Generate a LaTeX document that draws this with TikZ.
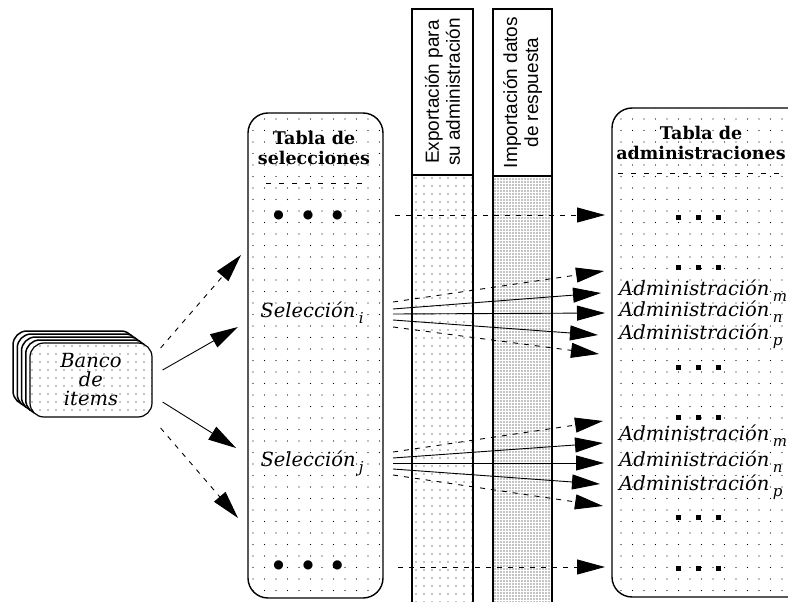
\documentclass[tikz,border=0pt]{standalone}
\usepackage{fontspec}
\newfontfamily\hdrfont{Liberation Sans}
\newfontfamily\labfont{DejaVu Serif}
\newfontfamily\symfont{DejaVu Sans}
\newcommand{\subl}[1]{\raisebox{-6pt}{\fontsize{15}{15}\selectfont #1}}
\usetikzlibrary{arrows.meta,patterns.meta,calc}
\begin{document}
\begin{tikzpicture}[x=1pt,y=-1pt,
  tabbox/.style={draw, line width=1.4pt, rounded corners=20, preaction={fill=white}, pattern={Dots[distance=11.5pt,radius=0.6pt]}, inner sep=0pt},
  colhead/.style={draw, line width=1.4pt, fill=white, rotate=90, inner sep=0pt, align=center, font=\hdrfont\fontsize{19}{21}\selectfont},
  colbodyA/.style={draw, line width=1.4pt, preaction={fill=white}, pattern={Dots[distance=8pt,radius=0.6pt]}, inner sep=0pt},
  colbodyB/.style={draw, line width=1.4pt, preaction={fill=white}, pattern={Dots[distance=3pt,radius=0.65pt]}, inner sep=0pt},
  tabtitle/.style={font=\labfont\fontsize{17.5}{20}\selectfont\bfseries, align=center, inner sep=0pt},
  itl/.style={font=\labfont\fontsize{19.5}{19}\selectfont\itshape, inner sep=0pt},
  admrow/.style={itl, anchor=west},
  bulletrow/.style={font=\symfont\fontsize{12}{12}\selectfont, inner sep=0pt},
  squarerow/.style={inner sep=0pt},
  stacklayer/.style={draw, line width=1.5pt, rounded corners=14, fill=white},
  bancobox/.style={draw, line width=1.2pt, rounded corners=14, minimum width=122, minimum height=74, preaction={fill=white}, pattern={Dots[distance=8pt,radius=0.6pt]}, align=center, itl},
  sepline/.style={line width=1pt, dash pattern=on 5pt off 8pt},
  fl/.style={line width=0.9pt, -{Triangle[length=28pt,width=15pt]}},
  dl/.style={fl, dash pattern=on 5pt off 6pt},
]
\clip (0,0) rectangle (788,602);
\fill[white] (0,0) rectangle (788,602);

% --- Banco de items (stack)
\foreach \k in {4,3,2,1}{
  \draw[stacklayer] ({30-4.25*\k},{343-3*\k}) rectangle ({152-4.25*\k},{417-3*\k});
}
\node[bancobox] (banco) at (91,380) {Banco\\de\\items};

% --- Tabla de selecciones
\node[tabbox, minimum width=135, minimum height=485] (seltab) at (315.5,355.5) {};
\node[tabtitle] (selt) at (314,148) {Tabla de\\selecciones};
\draw[sepline] (266,183) -- (366,183);
\node[bulletrow] (seld1) at (308,215) {●\hspace{19pt}●\hspace{19pt}●};
\node[itl] (seli) at (312,313) {Selección\,\subl{i}};
\node[itl] (selj) at (312,463) {Selección\,\subl{j}};
\node[bulletrow] (seld2) at (308,565) {●\hspace{19pt}●\hspace{19pt}●};

% --- Columns
\node[colbodyA, minimum width=61, minimum height=435] (expbody) at (442.5,392.5) {};
\node[colbodyB, minimum width=59, minimum height=434] (impbody) at (522.5,393) {};
\node[colhead, minimum width=166, minimum height=61] (exphead) at (442.5,92) {Exportación para\\su administración};
\node[colhead, minimum width=167, minimum height=59] (imphead) at (522.5,92.5) {Importación datos\\de respuesta};

% --- Tabla de administraciones
\node[tabbox, minimum width=200, minimum height=489] (admtab) at (712,352.5) {};
\node[tabtitle] (admt) at (701,143) {Tabla de\\administraciones};
\draw[sepline] (618,173) -- (786,173);
\foreach \nm/\yy in {a1/217,a2/267,a3/367,a4/417,a5/517,a6/568}{
  \node[squarerow] (\nm) at (698,\yy) {\rule{5pt}{5pt}\hspace{15pt}\rule{5pt}{5pt}\hspace{15pt}\rule{5pt}{5pt}};
}
\node[admrow] (am1) at (619,291) {Administración\,\subl{m}};
\node[admrow] (an1) at (619,312) {Administración\,\subl{n}};
\node[admrow] (ap1) at (619,336) {Administración\,\subl{p}};
\node[admrow] (am2) at (619,436) {Administración\,\subl{m}};
\node[admrow] (an2) at (619,462) {Administración\,\subl{n}};
\node[admrow] (ap2) at (619,487) {Administración\,\subl{p}};

% --- Arrows from banco
\coordinate (b1) at ($(banco.east)+(8,-32)$);
\coordinate (b2) at ($(banco.east)+(10,-10)$);
\coordinate (b3) at ($(banco.east)+(10,22)$);
\coordinate (b4) at ($(banco.east)+(8,48)$);
\coordinate (t1) at (241,255);
\coordinate (t2) at (238,327);
\coordinate (t3) at (236,448);
\coordinate (t4) at (238,518);
\draw[dl] (b1) -- (t1);
\draw[fl] (b2) -- (t2);
\draw[fl] (b3) -- (t3);
\draw[dl] (b4) -- (t4);

% --- Horizontal dashed arrows
\coordinate (h1s) at (395,215);
\coordinate (h1e) at (605,215);
\coordinate (h2s) at (398,567);
\coordinate (h2e) at (605,567);
\draw[dl] (h1s) -- (h1e);
\draw[dl] (h2s) -- (h2e);

% --- Fan from Selección i
\coordinate (si1) at (393,302); \coordinate (ei1) at (604,271);
\coordinate (si2) at (393,309); \coordinate (ei2) at (601,293);
\coordinate (si3) at (393,314); \coordinate (ei3) at (605,313);
\coordinate (si4) at (393,320); \coordinate (ei4) at (598,335);
\coordinate (si5) at (393,327); \coordinate (ei5) at (599,354);
\draw[dl] (si1) -- (ei1);
\draw[fl] (si2) -- (ei2);
\draw[fl] (si3) -- (ei3);
\draw[fl] (si4) -- (ei4);
\draw[dl] (si5) -- (ei5);

% --- Fan from Selección j
\coordinate (sj1) at (393,452); \coordinate (ej1) at (603,421);
\coordinate (sj2) at (393,458); \coordinate (ej2) at (603,443);
\coordinate (sj3) at (393,463); \coordinate (ej3) at (604,463);
\coordinate (sj4) at (393,469); \coordinate (ej4) at (600,484);
\coordinate (sj5) at (393,475); \coordinate (ej5) at (603,506);
\draw[dl] (sj1) -- (ej1);
\draw[fl] (sj2) -- (ej2);
\draw[fl] (sj3) -- (ej3);
\draw[fl] (sj4) -- (ej4);
\draw[dl] (sj5) -- (ej5);
\end{tikzpicture}
\end{document}
